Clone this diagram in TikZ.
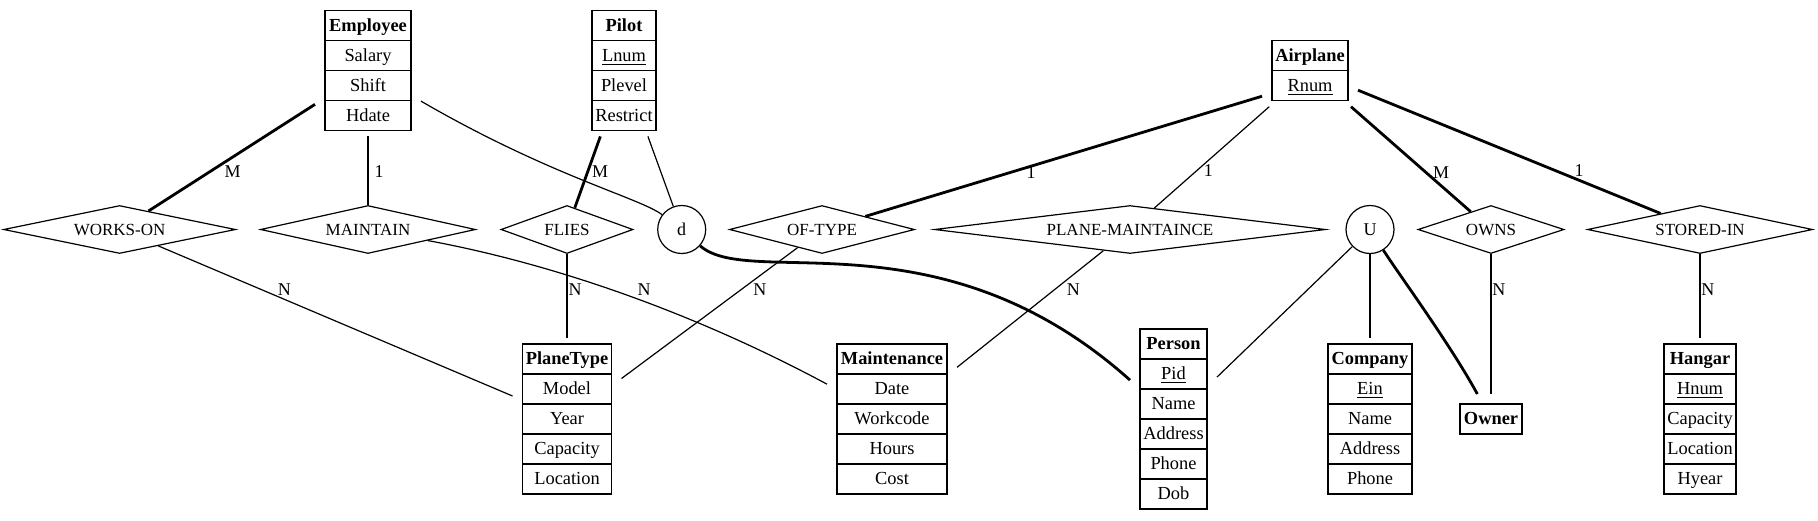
\documentclass[tikz,border=0pt]{standalone}
\usepackage{fontspec}
\setmainfont{Liberation Serif}
\usetikzlibrary{shapes.geometric,shapes.multipart}
\newcommand{\rw}[1]{\rule[-4.3pt]{0pt}{14.4pt}#1}
\tikzset{
	entity/.style={draw, line width=0.6pt, rectangle split, rectangle split parts=#1, inner xsep=1pt, inner ysep=0pt, outer xsep=5pt, outer ysep=3pt, font=\fontsize{9.2}{11}\selectfont},
	relation/.style={draw, diamond, line width=0.6pt, inner sep=0pt, minimum height=24pt, font=\fontsize{8.5}{10}\selectfont},
	joint/.style={draw, circle, line width=0.6pt, minimum size=24pt, inner sep=0pt, font=\fontsize{9}{10}\selectfont},
	weak/.style={line width=0.6pt},
	strong/.style={line width=1.4pt},
	card/.style={inner sep=0pt, anchor=west, font=\fontsize{9}{10}\selectfont}
}
\begin{document}
\begin{tikzpicture}[x=0.5pt, y=-0.5pt]
	\useasboundingbox (0,0) rectangle (1818,520);

	\node[entity=4, minimum width=43pt] (employee) at (368,70.4) {\rw{\textbf{Employee}}\nodepart{two}\rw{Salary}\nodepart{three}\rw{Shift}\nodepart{four}\rw{Hdate}};
	\node[entity=4, minimum width=32pt] (pilot) at (624,70.4) {\rw{\textbf{Pilot}}\nodepart{two}\rw{\underline{Lnum}}\nodepart{three}\rw{Plevel}\nodepart{four}\rw{Restrict}};
	\node[entity=2, minimum width=38pt] (airplane) at (1310,70.7) {\rw{\textbf{Airplane}}\nodepart{two}\rw{\underline{Rnum}}};

	\node[entity=5, minimum width=44.5pt] (planetype) at (567,419) {\rw{\textbf{PlaneType}}\nodepart{two}\rw{Model}\nodepart{three}\rw{Year}\nodepart{four}\rw{Capacity}\nodepart{five}\rw{Location}};
	\node[entity=5, minimum width=55pt] (maintenance) at (892,419) {\rw{\textbf{Maintenance}}\nodepart{two}\rw{Date}\nodepart{three}\rw{Workcode}\nodepart{four}\rw{Hours}\nodepart{five}\rw{Cost}};
	\node[entity=6, minimum width=33.5pt] (person) at (1173.5,419) {\rw{\textbf{Person}}\nodepart{two}\rw{\underline{Pid}}\nodepart{three}\rw{Name}\nodepart{four}\rw{Address}\nodepart{five}\rw{Phone}\nodepart{six}\rw{Dob}};
	\node[entity=5, minimum width=42pt] (company) at (1370,419) {\rw{\textbf{Company}}\nodepart{two}\rw{\underline{Ein}}\nodepart{three}\rw{Name}\nodepart{four}\rw{Address}\nodepart{five}\rw{Phone}};
	\node[entity=1, minimum width=31pt, outer ysep=5pt] (owner) at (1491,419) {\rw{\textbf{Owner}}};
	\node[entity=5, minimum width=36pt] (hangar) at (1700,419) {\rw{\textbf{Hangar}}\nodepart{two}\rw{\underline{Hnum}}\nodepart{three}\rw{Capacity}\nodepart{four}\rw{Location}\nodepart{five}\rw{Hyear}};

	\node[relation, minimum width=116pt, shape aspect=4.83] (workson) at (119.6,229.5) {WORKS-ON};
	\node[relation, minimum width=107.5pt, shape aspect=4.48] (maintain) at (368,229.5) {MAINTAIN};
	\node[relation, minimum width=66pt, shape aspect=2.75] (flies) at (567,229.5) {FLIES};
	\node[joint] (dcirc) at (681.7,229.5) {d};
	\node[relation, minimum width=92.5pt, shape aspect=3.85] (oftype) at (822,229.5) {OF-TYPE};
	\node[relation, minimum width=195.5pt, shape aspect=8.15] (planemaint) at (1130,229.5) {PLANE-MAINTAINCE};
	\node[joint] (ucirc) at (1370,229.5) {U};
	\node[relation, minimum width=73pt, shape aspect=3.04] (owns) at (1491,229.5) {OWNS};
	\node[relation, minimum width=112.5pt, shape aspect=4.69] (storedin) at (1700,229.5) {STORED-IN};

	\draw[strong] (employee) -- (workson) node[card, pos=0.631, xshift=6.7pt] {M};
	\draw[weak] (employee) -- (maintain) node[card, pos=0.518, xshift=3pt] {1};
	\draw[weak] (employee) .. controls (550,176) and (640,198) .. (dcirc);
	\draw[strong] (pilot) -- (flies) node[card, pos=0.498, xshift=1.5pt] {M};
	\draw[weak] (pilot) -- (dcirc);

	\draw[weak] (workson) -- (planetype) node[card, pos=0.289, xshift=8.3pt] {N};
	\draw[weak] (maintain) .. controls (560,265) and (700,316) .. (maintenance) node[card, pos=0.455, xshift=13pt] {N};
	\draw[weak] (flies) -- (planetype) node[card, pos=0.42, xshift=0.5pt] {N};
	\draw[weak] (oftype) -- (planetype) node[card, pos=0.318, xshift=5.6pt] {N};
	\draw[strong] (dcirc) .. controls (750,290) and (940,210) .. (person);

	\draw[strong] (oftype) -- (airplane.208) node[card, pos=0.38, xshift=4.5pt, yshift=-1pt] {1};
	\draw[weak] (airplane) -- (planemaint) node[card, pos=0.632, xshift=3.3pt] {1};
	\draw[strong] (airplane) -- (owns) node[card, pos=0.624, xshift=3pt] {M};
	\draw[strong] (airplane) -- (storedin) node[card, pos=0.654, xshift=8.6pt] {1};

	\draw[weak] (planemaint) -- (maintenance) node[card, pos=0.331, xshift=5.7pt] {N};
	\draw[weak] (ucirc) -- (person);
	\draw[weak] (ucirc) -- (company);
	\draw[strong] (ucirc) .. controls (1400,276) and (1450,344) .. (owner);
	\draw[weak] (owns) -- (owner) node[card, pos=0.253, xshift=0.4pt] {N};
	\draw[weak] (storedin) -- (hangar) node[card, pos=0.42, xshift=0.4pt] {N};
\end{tikzpicture}
\end{document}
